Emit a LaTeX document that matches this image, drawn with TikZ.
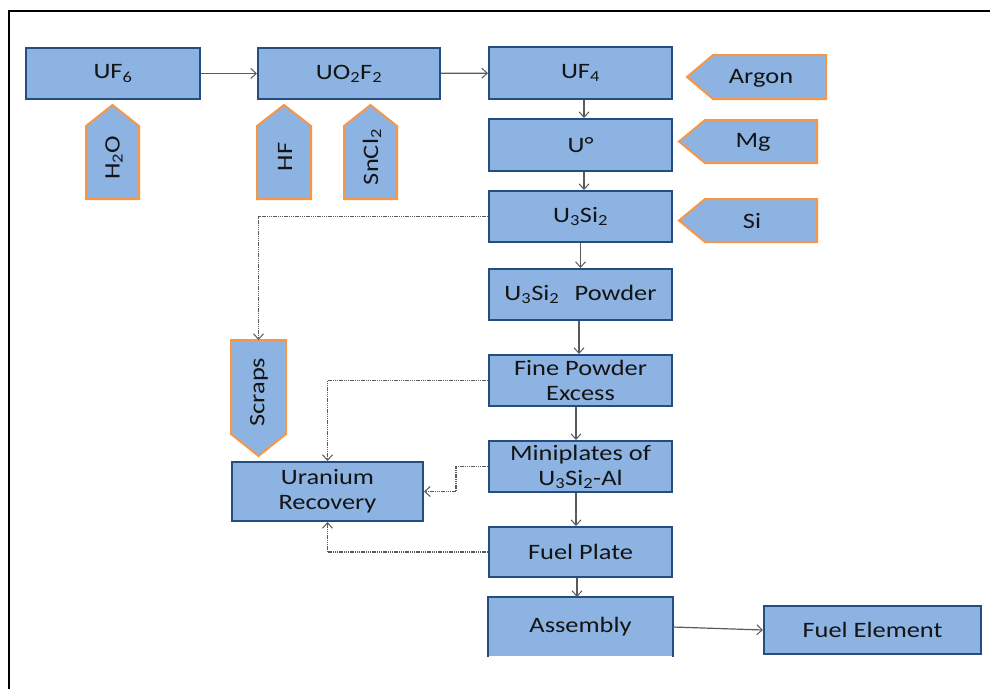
\documentclass[tikz,border=0pt]{standalone}
\usepackage{fontspec}
\setmainfont{Carlito}[FakeStretch=1.2]
\usetikzlibrary{arrows.meta}
\definecolor{boxfill}{HTML}{8DB3E2}
\definecolor{boxline}{HTML}{264D82}
\definecolor{orng}{HTML}{F79646}
\definecolor{txt}{HTML}{141414}
\definecolor{conn}{HTML}{5A5A5A}
\tikzset{
  x=1pt, y=-1pt,
  box/.style={draw=boxline, fill=boxfill, line width=2pt, inner sep=0pt, text=txt,
    font=\fontsize{22}{25}\selectfont, align=center},
  tag/.style={draw=orng, fill=boxfill, line width=2pt, line join=miter},
  tagtext/.style={text=txt, font=\fontsize{22}{25}\selectfont, inner sep=0pt},
  flow/.style={draw=conn, line width=1.2pt, -{Straight Barb[length=5.5pt,width=10pt,line width=1pt]}},
  recov/.style={draw=conn, line width=1.2pt, dash pattern=on 1.4pt off 0.8pt,
    -{Straight Barb[length=5.5pt,width=10pt,line width=1pt]}}
}
\begin{document}
\begin{tikzpicture}
\useasboundingbox (0,0) rectangle (990,689);
\draw[line width=2.2pt] (9,689) -- (9,11) -- (991,11);

% main boxes
\node[box, minimum width=174, minimum height=51] (uf6) at (113,73.5) {UF\textsubscript{6}};
\node[box, minimum width=182, minimum height=51] (uo2f2) at (349,73.5) {UO\textsubscript{2}F\textsubscript{2}};
\node[box, minimum width=183, minimum height=52] (uf4) at (580.5,73) {UF\textsubscript{4}};
\node[box, minimum width=183, minimum height=52] (u0) at (580.5,145) {U°};
\node[box, minimum width=183, minimum height=51] (u3si2) at (580.5,216.5) {U\textsubscript{3}Si\textsubscript{2}};
\node[box, minimum width=183, minimum height=51] (powder) at (580.5,294.5) {U\textsubscript{3}Si\textsubscript{2}\hspace{0.7em}Powder};
\node[box, minimum width=183, minimum height=51] (fine) at (580.5,380.5) {Fine Powder\\Excess};
\node[box, minimum width=183, minimum height=51] (mini) at (580.5,466.5) {Miniplates of\\U\textsubscript{3}Si\textsubscript{2}-Al};
\node[box, minimum width=183, minimum height=50] (fuelplate) at (580.5,552) {Fuel Plate};
\node[box, draw=none, minimum width=183, minimum height=58] (assembly) at (580.5,627) {Assembly};
\draw[boxline, line width=2pt] (assembly.south west) -- (assembly.north west) -- (assembly.north east) -- (assembly.south east);
\node[box, minimum width=217, minimum height=48] (fuelel) at (872.5,630) {Fuel Element};
\node[box, minimum width=191, minimum height=59] (recovery) at (327.5,491.5) {Uranium\\Recovery};

% input tags (up-pointing)
\draw[tag] (86,199) -- (86,126) -- (112.5,105) -- (139,126) -- (139,199) -- cycle;
\node[tagtext, rotate=90] (h2o) at (114,158) {H\textsubscript{2}O};
\draw[tag] (257,199) -- (257,126) -- (284,105) -- (311,126) -- (311,199) -- cycle;
\node[tagtext, rotate=90] (hf) at (285,157) {HF};
\draw[tag] (344,199) -- (344,126) -- (370.5,105) -- (397,126) -- (397,199) -- cycle;
\node[tagtext, rotate=90] (sncl2) at (372,157) {SnCl\textsubscript{2}};

% input tags (left-pointing)
\draw[tag] (687,77) -- (713,55) -- (826,55) -- (826,99) -- (713,99) -- cycle;
\node[tagtext] (argon) at (761,78) {Argon};
\draw[tag] (679,141.5) -- (705,120) -- (817,120) -- (817,163) -- (705,163) -- cycle;
\node[tagtext] (mg) at (753,142) {Mg};
\draw[tag] (679,220.5) -- (705,199) -- (817,199) -- (817,242) -- (705,242) -- cycle;
\node[tagtext] (si) at (752,221) {Si};

% scraps (down-pointing)
\draw[tag] (231,340) -- (286,340) -- (286,434) -- (258.5,456) -- (231,434) -- cycle;
\node[tagtext, rotate=90] (scraps) at (259,392) {Scraps};
\coordinate (scrapstop) at (258.5,340);

% main flow
\draw[flow] (uf6) -- (uo2f2);
\draw[flow] (uo2f2) -- (uf4);
\draw[flow] ([xshift=3.5pt]uf4.south) -- ([xshift=3.5pt]u0.north);
\draw[flow] ([xshift=3.5pt]u0.south) -- ([xshift=3.5pt]u3si2.north);
\draw[flow] (u3si2.south) -- (powder.north);
\draw[flow] ([xshift=-1.5pt]powder.south) -- ([xshift=-1.5pt]fine.north);
\draw[flow] ([xshift=-4.5pt]fine.south) -- ([xshift=-4.5pt]mini.north);
\draw[flow] ([xshift=-4.5pt]mini.south) -- ([xshift=-4.5pt]fuelplate.north);
\draw[flow] ([xshift=-3.5pt]fuelplate.south) -- ([xshift=-3.5pt]assembly.north);
\draw[flow] (assembly.east) -- (fuelel.west);

% recovery / scrap flows
\coordinate (minibend) at (456,466.5);
\draw[recov] (u3si2.west) -| (scrapstop);
\draw[recov] (fine.west) -| (recovery.north);
\draw[recov] (mini.west) -- (minibend) |- (recovery.east);
\draw[recov] (fuelplate.west) -| (recovery.south);
\end{tikzpicture}
\end{document}
